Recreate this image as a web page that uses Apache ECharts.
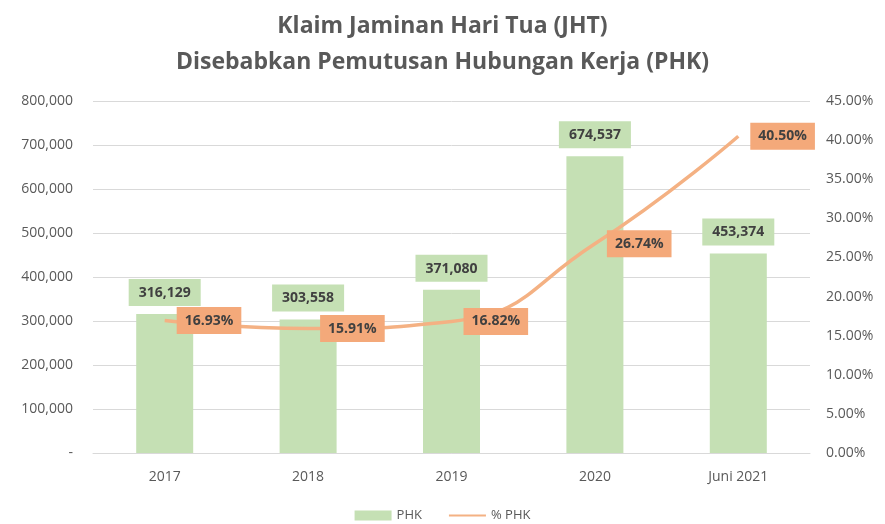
<!DOCTYPE html>
<html>
<head>
<meta charset="utf-8">
<script src="https://cdn.jsdelivr.net/npm/echarts@6/dist/echarts.min.js"></script>
<style>
  html, body { margin: 0; padding: 0; background: #fff; }
  #chart { width: 885px; height: 524px; }
</style>
</head>
<body>
<div id="chart"></div>
<script>
var categories = ['2017', '2018', '2019', '2020', 'Juni 2021'];
var phkValues = [316129, 303558, 371080, 674537, 453374];
var phkPercent = [16.93, 15.91, 16.82, 26.74, 40.50];

var green = '#C5E0B4';
var orange = '#F4B183';
var textGray = '#595959';

var chart = echarts.init(document.getElementById('chart'));

var option = {
    title: {
        text: 'Klaim Jaminan Hari Tua (JHT)\nDisebabkan Pemutusan Hubungan Kerja (PHK)',
        left: 'center',
        top: 3,
        textStyle: {
            fontFamily: 'Open Sans',
            fontSize: 23,
            fontWeight: 'bold',
            color: textGray,
            lineHeight: 36
        }
    },
    legend: {
        bottom: -3,
        left: 'center',
        itemWidth: 37,
        itemHeight: 10,
        itemGap: 26,
        textStyle: { fontFamily: 'Open Sans', fontSize: 13, color: textGray },
        data: [
            { name: 'PHK', icon: 'rect' },
            { name: '% PHK' }
        ]
    },
    grid: {
        left: 93,
        right: 75,
        top: 101,
        bottom: 71
    },
    xAxis: {
        type: 'category',
        data: categories,
        axisTick: { show: false },
        axisLine: { lineStyle: { color: '#d9d9d9', width: 1 } },
        axisLabel: { fontFamily: 'Open Sans', fontSize: 14, color: textGray, margin: 17 }
    },
    yAxis: [
        {
            type: 'value',
            min: 0,
            max: 800000,
            interval: 100000,
            axisLine: { show: false },
            axisTick: { show: false },
            splitLine: { lineStyle: { color: '#d9d9d9' } },
            axisLabel: {
                fontFamily: 'Open Sans',
                fontSize: 14,
                color: textGray,
                margin: 20,
                formatter: function (v) {
                    return v === 0 ? '-' : v.toLocaleString('en-US');
                }
            }
        },
        {
            type: 'value',
            min: 0,
            max: 45,
            interval: 5,
            axisLine: { show: false },
            axisTick: { show: false },
            splitLine: { show: false },
            axisLabel: {
                fontFamily: 'Open Sans',
                fontSize: 14,
                color: textGray,
                margin: 16,
                formatter: function (v) { return v.toFixed(2) + '%'; }
            }
        }
    ],
    series: [
        {
            name: 'PHK',
            type: 'bar',
            data: phkValues,
            barWidth: 57,
            itemStyle: { color: green },
            label: {
                show: true,
                position: 'top',
                distance: 8,
                backgroundColor: green,
                padding: [7, 10, 6, 10],
                fontFamily: 'Open Sans',
                fontSize: 14,
                fontWeight: 'bold',
                color: '#404040',
                formatter: function (p) { return p.value.toLocaleString('en-US'); }
            }
        },
        {
            name: '% PHK',
            type: 'line',
            yAxisIndex: 1,
            data: phkPercent,
            smooth: true,
            symbol: 'circle',
            symbolSize: 4,
            lineStyle: { color: orange, width: 3.5 },
            itemStyle: { color: orange, opacity: 0 },
            z: 5,
            label: {
                show: true,
                position: 'right',
                distance: 10,
                opacity: 1,
                backgroundColor: '#F4A97A',
                padding: [7, 8, 6, 8],
                fontFamily: 'Open Sans',
                fontSize: 14,
                fontWeight: 'bold',
                color: '#404040',
                formatter: function (p) { return p.value.toFixed(2) + '%'; }
            }
        }
    ]
};

chart.setOption(option);
</script>
</body>
</html>
